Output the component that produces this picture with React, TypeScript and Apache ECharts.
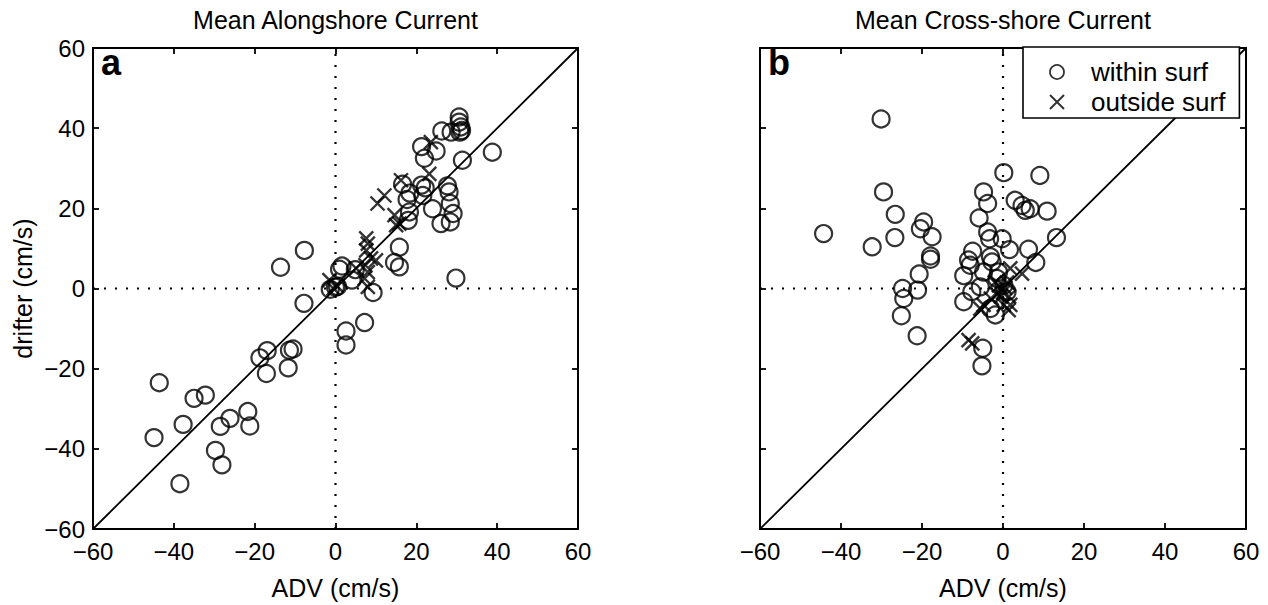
import React, { useEffect, useRef } from "react";
import * as echarts from "echarts";

const FONT = "'Liberation Sans', Arial, Helvetica, sans-serif";

const axisMin = -60;
const axisMax = 60;
const axisStep = 20;

const panelTitles = ["Mean Alongshore Current", "Mean Cross-shore Current"];
const panelLetters = ["a", "b"];
const xAxisTitle = "ADV (cm/s)";
const yAxisTitle = "drifter (cm/s)";
const legendNames = ["within surf", "outside surf"];

const oneToOne: [number, number][] = [[-60, -60], [60, 60]];
const zeroVertical: [number, number][] = [[0, -60], [0, 60]];
const zeroHorizontal: [number, number][] = [[-60, 0], [60, 0]];

// Panel a: alongshore
const alongWithin: [number, number][] = [
  [-43.6, -23.5], [-44.9, -37.2], [-38.5, -48.7], [-37.7, -33.9], [-35.0, -27.4],
  [-32.2, -26.6], [-29.7, -40.4], [-28.1, -44.0], [-28.5, -34.4], [-26.1, -32.4],
  [-21.7, -30.7], [-21.2, -34.3], [-18.7, -17.3], [-16.9, -15.5], [-17.1, -21.2],
  [-11.4, -15.4], [-10.5, -15.1], [-11.7, -19.8], [-7.8, -3.7], [-13.6, 5.3],
  [-7.7, 9.5], [-1.3, -0.2], [0.0, 0.3], [0.5, 0.5], [1.6, 5.6], [1.0, 4.8],
  [4.1, 2.1], [4.9, 4.7], [2.6, -10.6], [2.6, -14.1], [7.2, -8.5], [9.3, -1.0],
  [15.8, 10.3], [14.6, 6.5], [15.8, 5.4], [29.8, 2.6],
  [16.6, 26.0], [18.0, 17.0], [18.3, 19.1], [17.7, 22.2], [18.4, 23.8],
  [21.3, 25.8], [22.2, 25.1], [24.0, 19.9], [27.7, 25.6], [28.1, 24.1],
  [28.4, 21.2], [29.1, 18.7], [26.1, 16.2], [28.4, 16.6], [21.6, 23.2],
  [21.3, 35.4], [24.9, 34.3], [22.0, 32.5], [31.4, 32.0], [38.8, 34.0],
  [26.3, 39.3], [28.6, 39.0], [30.6, 42.8], [30.6, 41.5], [31.0, 40.3],
  [31.2, 39.4], [30.8, 39.0]
];
const alongOutside: [number, number][] = [
  [-1.5, 2.1], [0.2, 0.8], [-0.5, 0.0], [5.1, 5.0], [7.6, 12.5], [8.0, 11.2],
  [7.6, 9.5], [8.8, 7.5], [10.0, 7.0], [7.4, 5.8], [8.0, 4.1], [7.2, 2.5],
  [8.0, 0.4], [10.4, 21.2], [12.1, 23.2], [14.6, 18.3], [15.0, 15.8], [15.8, 16.2],
  [16.2, 27.0], [23.2, 28.6], [23.6, 36.5]
];

// Panel b: cross-shore
const crossWithin: [number, number][] = [
  [-30.1, 42.3], [-29.5, 24.1], [-26.6, 18.5], [-26.7, 12.7], [-44.3, 13.7],
  [-32.3, 10.4], [-19.6, 16.6], [-20.4, 14.9], [-17.5, 12.9], [-17.9, 8.1],
  [-17.9, 7.3], [-20.7, 3.6], [-24.8, 0.0], [-24.5, -2.5], [-25.1, -6.8],
  [-21.1, -0.4], [-21.2, -11.8], [0.2, 28.9], [9.1, 28.2], [-4.8, 24.1],
  [-3.8, 21.2], [3.0, 22.0], [4.7, 20.7], [5.5, 19.5], [6.7, 19.9], [10.9, 19.3],
  [13.2, 12.7], [-5.9, 17.6], [-3.8, 14.1], [-3.3, 12.4], [-0.2, 12.4],
  [1.6, 9.7], [6.3, 9.8], [8.1, 6.5], [-7.5, 9.3], [-8.5, 7.1], [-8.1, 5.8],
  [-3.1, 7.9], [-2.7, 6.6], [-9.7, 3.2], [-5.6, 0.4], [-7.7, -0.8], [-9.7, -3.3],
  [-4.8, 4.1], [-1.5, 2.5], [0.2, 0.8], [1.0, -0.8], [-3.1, -5.0], [-1.9, -6.6],
  [-5.0, -14.9], [-5.2, -19.3], [-1.1, 4.1]
];
const crossOutside: [number, number][] = [
  [-8.5, -12.9], [-7.6, -13.7], [4.7, 3.7], [1.8, 5.0], [-5.6, -5.0], [-4.8, -4.1],
  [0.2, -4.1], [1.4, -5.4], [1.8, -4.1], [-1.0, 0.8], [0.0, -1.0], [-2.0, 1.5],
  [-0.5, -2.0], [1.0, 1.5], [-1.5, -1.5], [0.5, 0.2], [-3.0, -2.5], [1.5, -2.0]
];

const CROSS = "path://M0,0L10,10M10,0L0,10";

export default function App() {
  const ref = useRef<HTMLDivElement>(null);

  useEffect(() => {
    if (!ref.current) return;
    const chart = echarts.init(ref.current, null, { renderer: "svg" });

    const grids = [
      { left: 93, top: 48, width: 485, height: 484 },
      { left: 760, top: 48, width: 486, height: 484 },
    ];

    const fmt = (v: number) => String(v).replace("-", "\u2212");
    const baseAxis = (extra: any) => ({
      type: "value",
      min: axisMin,
      max: axisMax,
      interval: axisStep,
      splitLine: { show: false },
      axisLine: { show: true, onZero: false, lineStyle: { color: "#000", width: 2 } },
      axisTick: { show: true, inside: true, length: 6, lineStyle: { color: "#000", width: 1.8 } },
      ...extra,
    });
    const labelStyle = { fontSize: 24, color: "#000", fontFamily: FONT, formatter: fmt };

    const xAxes: any[] = [];
    const yAxes: any[] = [];
    [0, 1].forEach((p) => {
      xAxes.push(
        baseAxis({
          gridIndex: p,
          position: "bottom",
          axisLabel: { ...labelStyle, margin: 10 },
          name: xAxisTitle,
          nameLocation: "middle",
          nameGap: 46,
          nameTextStyle: { fontSize: 25, color: "#000", fontFamily: FONT },
        })
      );
      xAxes.push(
        baseAxis({
          gridIndex: p,
          position: "top",
          axisLabel: { show: false },
          name: panelTitles[p],
          nameLocation: "middle",
          nameGap: 16,
          nameTextStyle: { fontSize: 25, color: "#000", fontFamily: FONT },
        })
      );
      yAxes.push(
        baseAxis({
          gridIndex: p,
          position: "left",
          axisLabel: p === 0 ? { ...labelStyle, margin: 8 } : { show: false },
          name: p === 0 ? yAxisTitle : "",
          nameLocation: "middle",
          nameGap: 58,
          nameTextStyle: { fontSize: 25, color: "#000", fontFamily: FONT },
        })
      );
      yAxes.push(
        baseAxis({
          gridIndex: p,
          position: "right",
          axisLabel: { show: false },
        })
      );
    });

    const series: any[] = [];
    const panelData = [
      [alongWithin, alongOutside],
      [crossWithin, crossOutside],
    ];
    [0, 1].forEach((p) => {
      const xi = p * 2;
      const yi = p * 2;
      const dotted = {
        type: "line",
        xAxisIndex: xi,
        yAxisIndex: yi,
        symbol: "none",
        silent: true,
        z: 1,
        lineStyle: { color: "#000", width: 2.2, type: [2, 9] },
      };
      series.push({ ...dotted, data: zeroVertical });
      series.push({ ...dotted, data: zeroHorizontal });
      series.push({
        type: "line",
        xAxisIndex: xi,
        yAxisIndex: yi,
        symbol: "none",
        silent: true,
        z: 1,
        data: oneToOne,
        lineStyle: { color: "#000", width: 1.8 },
      });
      series.push({
        name: legendNames[0],
        type: "scatter",
        xAxisIndex: xi,
        yAxisIndex: yi,
        symbol: "circle",
        symbolSize: 17,
        z: 3,
        itemStyle: { color: "transparent", borderColor: "#000", borderWidth: 2.2 },
        data: panelData[p][0],
      });
      series.push({
        name: legendNames[1],
        type: "scatter",
        xAxisIndex: xi,
        yAxisIndex: yi,
        symbol: CROSS,
        symbolSize: 14,
        z: 3,
        itemStyle: { color: "transparent", borderColor: "#000", borderWidth: 2.4 },
        data: panelData[p][1],
      });
    });

    chart.setOption({
      animation: false,
      backgroundColor: "#fff",
      grid: grids,
      xAxis: xAxes,
      yAxis: yAxes,
      legend: {
        left: 1023,
        top: 47,
        orient: "vertical",
        backgroundColor: "#fff",
        borderColor: "#000",
        borderWidth: 1.6,
        borderRadius: 0,
        padding: [12, 14, 3, 26],
        itemGap: 4,
        itemWidth: 14,
        itemHeight: 14,
        selectedMode: false,
        textStyle: { fontSize: 26, color: "#000", fontFamily: FONT, lineHeight: 26, padding: [0, 0, 0, 22] },
        data: [
          { name: legendNames[0], icon: "circle", itemStyle: { color: "transparent", borderColor: "#000", borderWidth: 1.8 } },
          { name: legendNames[1], icon: CROSS, itemStyle: { color: "transparent", borderColor: "#000", borderWidth: 2 } },
        ],
      },
      graphic: [
        { type: "text", left: 101, top: 44, z: 10, style: { text: panelLetters[0], font: `bold 36px ${FONT}`, fill: "#000" } },
        { type: "text", left: 768, top: 44, z: 10, style: { text: panelLetters[1], font: `bold 36px ${FONT}`, fill: "#000" } },
      ],
      series,
    });

    return () => chart.dispose();
  }, []);

  return (
    <div
      ref={ref}
      style={{ position: "fixed", left: 0, top: 0, width: 1268, height: 605, background: "#fff" }}
    />
  );
}
